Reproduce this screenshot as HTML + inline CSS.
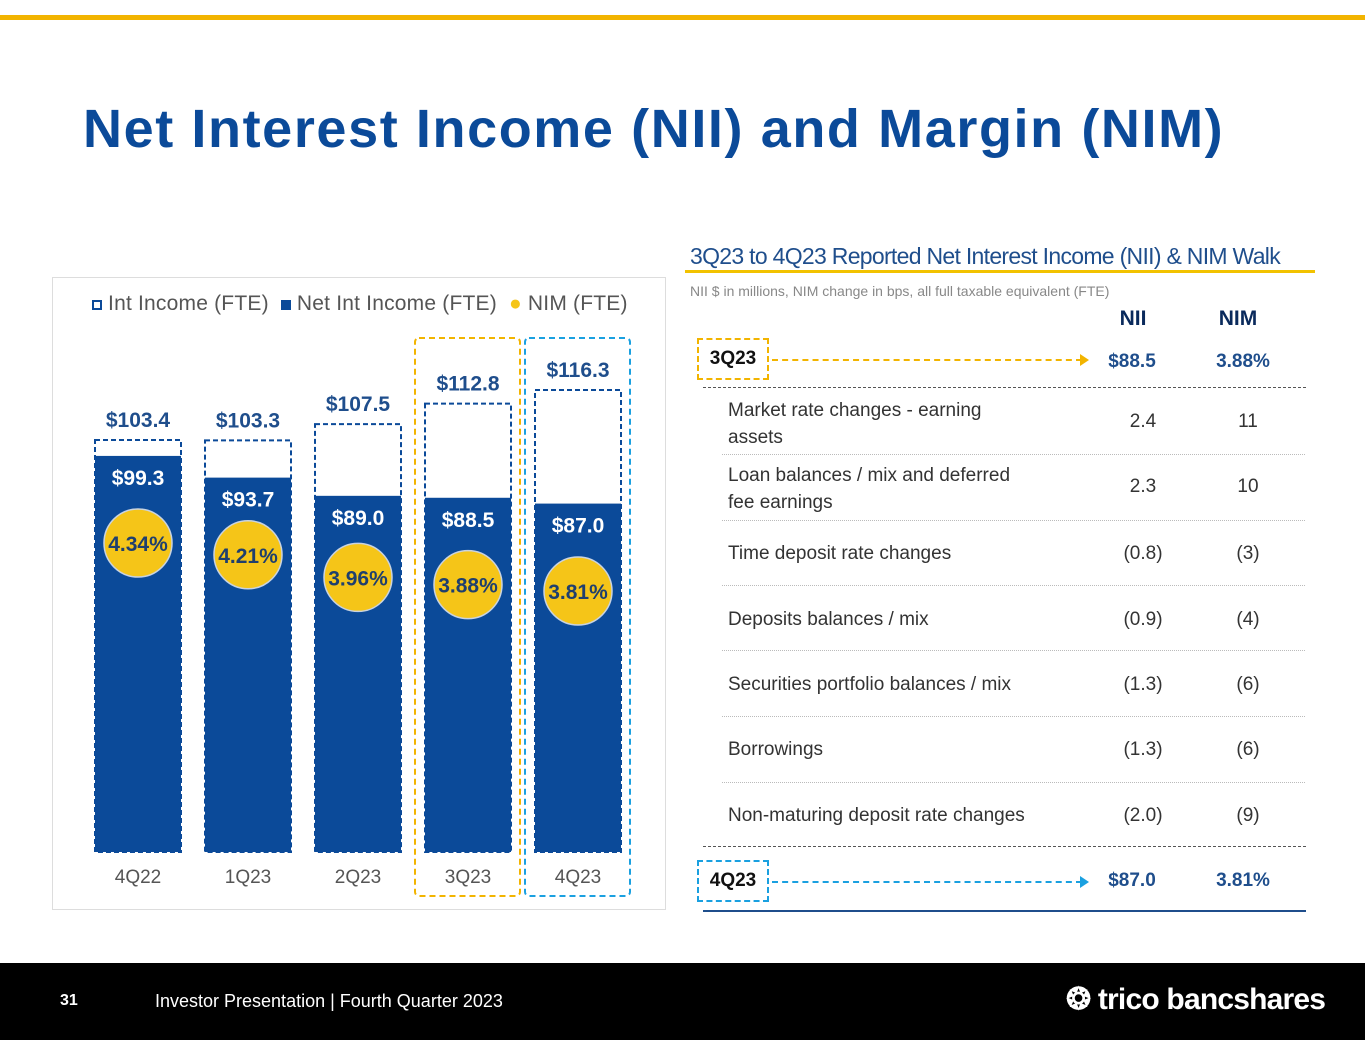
<!DOCTYPE html>
<html><head><meta charset="utf-8"><style>
body{margin:0;width:1365px;height:1055px;position:relative;background:#fff;font-family:"Liberation Sans",sans-serif;overflow:hidden}
.a{position:absolute}
.row{position:absolute;left:728px;width:580px;font-size:19px;color:#333}
.row .l{position:absolute;left:0;line-height:27px}
.row .n{position:absolute;left:390px;width:50px;text-align:center}
.row .m{position:absolute;left:495px;width:50px;text-align:center}
.sep{position:absolute;left:722px;width:583px;border-top:1px dotted #bbb}
</style></head><body>
<div class="a" style="left:0;top:15px;width:1365px;height:5px;background:#f2b400"></div>
<div class="a" style="left:83px;top:98px;font-size:54px;letter-spacing:1.6px;font-weight:bold;color:#0b4a99;white-space:nowrap">Net Interest Income (NII) and Margin (NIM)</div>

<div class="a" style="left:52px;top:277px;width:612px;height:631px;border:1px solid #ddd"></div>
<div class="a" style="left:92px;top:292px;font-size:21px;letter-spacing:0.2px;color:#555;white-space:nowrap">
<span style="display:inline-block;width:10px;height:10px;border:2px dashed #0b4a99;box-sizing:border-box"></span> Int Income (FTE) &nbsp;<span style="display:inline-block;width:10px;height:10px;background:#0b4a99"></span> Net Int Income (FTE) &nbsp;<span style="color:#f5c518">●</span> NIM (FTE)</div>
<svg class="a" id="chart" style="left:0;top:0" width="700" height="960"></svg>

<div class="a" style="left:690px;top:243px;font-size:23px;color:#1f4e8c;letter-spacing:-0.7px">3Q23 to 4Q23 Reported Net Interest Income (NII) &amp; NIM Walk</div>
<div class="a" style="left:685px;top:270px;width:630px;height:3px;background:#f2c200"></div>
<div class="a" style="left:690px;top:283px;font-size:14px;color:#888">NII $ in millions, NIM change in bps, all full taxable equivalent (FTE)</div>
<div class="a" style="left:1108px;top:307px;width:50px;text-align:center;font-size:21px;font-weight:bold;color:#0a2a5c">NII</div>
<div class="a" style="left:1208px;top:307px;width:60px;text-align:center;font-size:21px;font-weight:bold;color:#0a2a5c">NIM</div>

<div class="a" style="left:697px;top:338px;width:72px;height:42px;border:2px dashed #f2b400;box-sizing:border-box;font-size:19px;font-weight:bold;line-height:38px;text-align:center;color:#111">3Q23</div>
<div class="a" style="left:772px;top:359px;width:310px;border-top:2px dashed #f2b400"></div>
<div class="a" style="left:1080px;top:354px;width:0;height:0;border-left:9px solid #f2b400;border-top:6px solid transparent;border-bottom:6px solid transparent"></div>
<div class="a" style="left:1100px;top:351px;width:64px;text-align:center;font-size:19px;font-weight:bold;color:#1f4e8c">$88.5</div>
<div class="a" style="left:1208px;top:351px;width:70px;text-align:center;font-size:19px;font-weight:bold;color:#1f4e8c">3.88%</div>
<div class="a" style="left:703px;top:387px;width:603px;border-top:1px dashed #555"></div>

<div class="row" style="top:397px"><div class="l">Market rate changes - earning<br>assets</div><div class="n" style="top:14px">2.4</div><div class="m" style="top:14px">11</div></div>
<div class="sep" style="top:454px"></div>
<div class="row" style="top:462px"><div class="l">Loan balances / mix and deferred<br>fee earnings</div><div class="n" style="top:14px">2.3</div><div class="m" style="top:14px">10</div></div>
<div class="sep" style="top:520px"></div>
<div class="row" style="top:543px"><div class="l" style="line-height:22px">Time deposit rate changes</div><div class="n">(0.8)</div><div class="m">(3)</div></div>
<div class="sep" style="top:585px"></div>
<div class="row" style="top:609px"><div class="l" style="line-height:22px">Deposits balances / mix</div><div class="n">(0.9)</div><div class="m">(4)</div></div>
<div class="sep" style="top:650px"></div>
<div class="row" style="top:674px"><div class="l" style="line-height:22px">Securities portfolio balances / mix</div><div class="n">(1.3)</div><div class="m">(6)</div></div>
<div class="sep" style="top:716px"></div>
<div class="row" style="top:739px"><div class="l" style="line-height:22px">Borrowings</div><div class="n">(1.3)</div><div class="m">(6)</div></div>
<div class="sep" style="top:782px"></div>
<div class="row" style="top:805px"><div class="l" style="line-height:22px">Non-maturing deposit rate changes</div><div class="n">(2.0)</div><div class="m">(9)</div></div>
<div class="a" style="left:703px;top:846px;width:603px;border-top:1px dashed #555"></div>

<div class="a" style="left:697px;top:860px;width:72px;height:42px;border:2px dashed #1aa0e0;box-sizing:border-box;font-size:19px;font-weight:bold;line-height:38px;text-align:center;color:#111">4Q23</div>
<div class="a" style="left:772px;top:881px;width:310px;border-top:2px dashed #1aa0e0"></div>
<div class="a" style="left:1080px;top:876px;width:0;height:0;border-left:9px solid #1aa0e0;border-top:6px solid transparent;border-bottom:6px solid transparent"></div>
<div class="a" style="left:1100px;top:870px;width:64px;text-align:center;font-size:19px;font-weight:bold;color:#1f4e8c">$87.0</div>
<div class="a" style="left:1208px;top:870px;width:70px;text-align:center;font-size:19px;font-weight:bold;color:#1f4e8c">3.81%</div>
<div class="a" style="left:703px;top:910px;width:603px;height:2px;background:#1f4e8c"></div>

<div class="a" style="left:0;top:963px;width:1365px;height:77px;background:#000"></div>
<div class="a" style="left:60px;top:992px;font-size:16px;font-weight:bold;color:#fff">31</div>
<div class="a" style="left:155px;top:991px;font-size:18px;color:#fff">Investor Presentation | Fourth Quarter 2023</div>
<div class="a" style="left:1066px;top:982px;font-size:30px;font-weight:bold;color:#fff;letter-spacing:-0.8px">&#x2742; trico bancshares</div>

<script>
const categories=["4Q22","1Q23","2Q23","3Q23","4Q23"];
const intIncome=[103.4,103.3,107.5,112.8,116.3];
const netIntIncome=[99.3,93.7,89.0,88.5,87.0];
const nim=[4.34,4.21,3.96,3.88,3.81];
const svg=document.getElementById('chart');
const NS='http://www.w3.org/2000/svg';
const xC=i=>138+i*110;
const yV=v=>840.8-3.876*v;
const yN=v=>543+(4.34-v)*90.6;
const base=852,bw=86;
function mk(t,a,txt){const e=document.createElementNS(NS,t);for(const k in a)e.setAttribute(k,a[k]);if(txt!==undefined)e.textContent=txt;svg.appendChild(e);return e;}
let h=mk('rect',{x:415,y:338,width:105,height:558,rx:4,fill:'none',stroke:'#f2b400','stroke-width':2,'stroke-dasharray':'6,4'});


h=mk('rect',{x:525,y:338,width:105,height:558,rx:4,fill:'none',stroke:'#1aa0e0','stroke-width':2,'stroke-dasharray':'6,4'});


categories.forEach((c,i)=>{
 const x=xC(i)-bw/2, yt=yV(intIncome[i]), yn=yV(netIntIncome[i]);
 let r=mk('rect',{x:x,y:yt,width:bw,height:base-yt,fill:'none',stroke:'#0b4a99','stroke-width':2,'stroke-dasharray':'5,3'});
 
 
 r=mk('rect',{x:x,y:yn,width:bw,height:base-yn,fill:'#0b4a99'});
 
 
 let t=mk('text',{x:xC(i),y:yt-13,'text-anchor':'middle','font-size':21,'font-weight':'bold',fill:'#1f4e8c','font-family':'Liberation Sans'},'$'+intIncome[i].toFixed(1));
 
 
 t=mk('text',{x:xC(i),y:yn+29,'text-anchor':'middle','font-size':21,'font-weight':'bold',fill:'#fff','font-family':'Liberation Sans'},'$'+netIntIncome[i].toFixed(1));
 
 
 const cy=yN(nim[i]);
 let ci=mk('circle',{cx:xC(i),cy:cy,r:34,fill:'#f5c518',stroke:'#c9d3e0','stroke-width':1.5});
 
 
 t=mk('text',{x:xC(i),y:cy+8,'text-anchor':'middle','font-size':21,'font-weight':'bold',fill:'#1f3f6e','font-family':'Liberation Sans'},nim[i].toFixed(2)+'%');
 
 
 t=mk('text',{x:xC(i),y:883,'text-anchor':'middle','font-size':19,fill:'#555','font-family':'Liberation Sans'},c);
 
 
});
</script>
</body></html>
